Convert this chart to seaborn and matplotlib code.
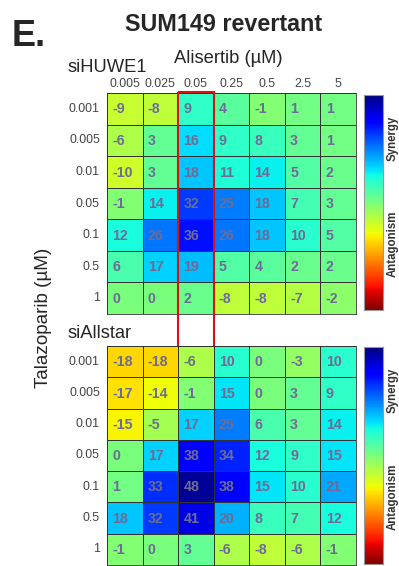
import numpy as np
import pandas as pd
import seaborn as sns
from matplotlib import pyplot as plt
from matplotlib.patches import Rectangle

alisertib = ['0.005', '0.025', '0.05', '0.25', '0.5', '2.5', '5']
talazoparib = ['0.001', '0.005', '0.01', '0.05', '0.1', '0.5', '1']

huwe1 = [[-9, -8, 9, 4, -1, 1, 1],
         [-6, 3, 16, 9, 8, 3, 1],
         [-10, 3, 18, 11, 14, 5, 2],
         [-1, 14, 32, 25, 18, 7, 3],
         [12, 26, 36, 26, 18, 10, 5],
         [6, 17, 19, 5, 4, 2, 2],
         [0, 0, 2, -8, -8, -7, -2]]

allstar = [[-18, -18, -6, 10, 0, -3, 10],
           [-17, -14, -1, 15, 0, 3, 9],
           [-15, -5, 17, 25, 6, 3, 14],
           [0, 17, 38, 34, 12, 9, 15],
           [1, 33, 48, 38, 15, 10, 21],
           [18, 32, 41, 20, 8, 7, 12],
           [-1, 0, 3, -6, -8, -6, -1]]

highlight = '0.05'

sns.set_style('white')
plt.rcParams['font.family'] = ['Liberation Sans', 'DejaVu Sans']

fig = plt.figure(figsize=(3.99, 5.66), dpi=100)

panels = [('siHUWE1', huwe1, 0.4452, 0.3905, 0.452, 0.380),
          ('siAllstar', allstar, 0.0018, 0.387, 0.0035, 0.383)]

axes = []
for name, vals, y0, h, cy0, ch in panels:
    ax = fig.add_axes([0.268, y0, 0.624, h])
    cax = fig.add_axes([0.912, cy0, 0.048, ch])
    df = pd.DataFrame(vals, index=talazoparib, columns=alisertib)
    sns.heatmap(df, ax=ax, cmap='jet_r', vmin=-50, vmax=50,
                linewidths=0.55, linecolor='#333333', cbar_ax=cax)
    for i in range(df.shape[0]):
        for j in range(df.shape[1]):
            ax.text(j + 0.15, i + 0.52, str(df.iloc[i, j]), ha='left', va='center',
                    fontsize=10.2, fontweight='bold', color='#6c6c96')
    ax.set_yticklabels(talazoparib, rotation=0, fontsize=8.9, color='#444444')
    ax.tick_params(axis='y', length=0, pad=5)
    if name == 'siHUWE1':
        ax.xaxis.tick_top()
        ax.set_xticklabels(alisertib, rotation=0, fontsize=8.9, color='#444444')
        ax.tick_params(axis='x', length=0, pad=2)
    else:
        ax.set_xticks([])
    ax.set_xlabel('')
    ax.set_ylabel('')
    for s in ax.spines.values():
        s.set_visible(True)
        s.set_color('#333333')
        s.set_linewidth(0.6)
    cax.set_yticks([])
    for s in cax.spines.values():
        s.set_visible(True)
        s.set_color('#999999')
    cax.text(1.5, 0.8, 'Synergy', transform=cax.transAxes, rotation=90,
             ha='center', va='center', fontsize=8.3, fontweight='bold', color='#333333')
    cax.text(1.5, 0.31, 'Antagonism', transform=cax.transAxes, rotation=90,
             ha='center', va='center', fontsize=8.3, fontweight='bold', color='#333333')
    axes.append(ax)

fig.text(0.168, 0.881, 'siHUWE1', fontsize=13.2, ha='left', va='center')
fig.text(0.170, 0.411, 'siAllstar', fontsize=13.2, ha='left', va='center')

# red box around the highlighted Alisertib column, spanning both panels
col = alisertib.index(highlight)
axes[0].add_patch(Rectangle((col, -0.03), 1, 16, fill=False, edgecolor='#e01010',
                            linewidth=1.5, clip_on=False, zorder=5))

fig.text(0.03, 0.935, 'E.', fontsize=26, fontweight='bold', ha='left', va='center')
fig.text(0.561, 0.957, 'SUM149 revertant', fontsize=16.8, fontweight='bold',
         ha='center', va='center')
fig.text(0.571, 0.896, 'Alisertib (µM)', fontsize=13.2, ha='center', va='center')
fig.text(0.108, 0.438, 'Talazoparib (µM)', fontsize=13.6, rotation=90,
         ha='center', va='center')

fig.savefig('out.png', dpi=100)
